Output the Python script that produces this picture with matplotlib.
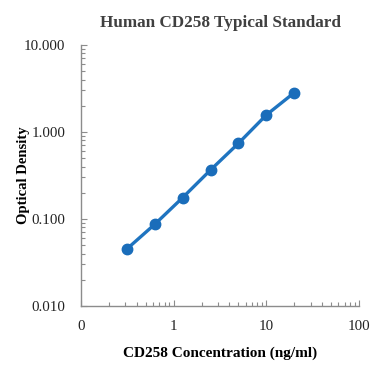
from matplotlib import pyplot as plt
from matplotlib.ticker import FixedLocator, LogLocator, NullFormatter

# standard curve data
conc = [0.3125, 0.625, 1.25, 2.5, 5, 10, 20]
od = [0.0452, 0.0869, 0.176, 0.366, 0.741, 1.57, 2.83]

x_ticks = [0.1, 1, 10, 100]
x_labels = ['0', '1', '10', '100']
y_ticks = [0.01, 0.1, 1, 10]
y_labels = ['0.010', '0.100', '1.000', '10.000']

plt.rcParams['font.family'] = ['Liberation Serif', 'DejaVu Serif']

fig = plt.figure(figsize=(3.84, 3.84), dpi=100)
ax = fig.add_axes([81 / 384, 1 - 306 / 384, 278 / 384, 261 / 384])

ax.plot(conc, od, color='#1f74c0', lw=2.4, marker='o', ms=7.5,
        markerfacecolor='#1a6dba', markeredgecolor='#1a6dba', zorder=3)

ax.set_xscale('log')
ax.set_yscale('log')
ax.set_xlim(0.1, 100)
ax.set_ylim(0.01, 10)

ax.xaxis.set_major_locator(FixedLocator(x_ticks))
ax.set_xticklabels(x_labels)
ax.yaxis.set_major_locator(FixedLocator(y_ticks))
ax.set_yticklabels(y_labels)
ax.xaxis.set_minor_locator(LogLocator(base=10, subs=range(2, 10)))
ax.yaxis.set_minor_locator(LogLocator(base=10, subs=range(2, 10)))
ax.xaxis.set_minor_formatter(NullFormatter())
ax.yaxis.set_minor_formatter(NullFormatter())

for s in ['top', 'right']:
    ax.spines[s].set_visible(False)
for s in ['left', 'bottom']:
    ax.spines[s].set_color('#8c8c8c')
    ax.spines[s].set_linewidth(1)

ax.tick_params(which='both', direction='in', color='#8c8c8c', width=0.8)
ax.tick_params(which='major', length=4, labelsize=10.8, labelcolor='#222222')
ax.tick_params(axis='y', which='major', pad=11.5)
ax.tick_params(axis='x', which='major', pad=10)
ax.tick_params(which='minor', length=3)

ax.set_title('Human CD258 Typical Standard', fontsize=12.3, fontweight='bold',
             color='#404040', pad=13)
ax.set_xlabel('CD258 Concentration (ng/ml)', fontsize=11, fontweight='bold', labelpad=10)
ax.set_ylabel('Optical Density', fontsize=10.5, fontweight='bold')
ax.yaxis.set_label_coords(-51 / 278, 0.5)

plt.savefig('out.png', dpi=100)
